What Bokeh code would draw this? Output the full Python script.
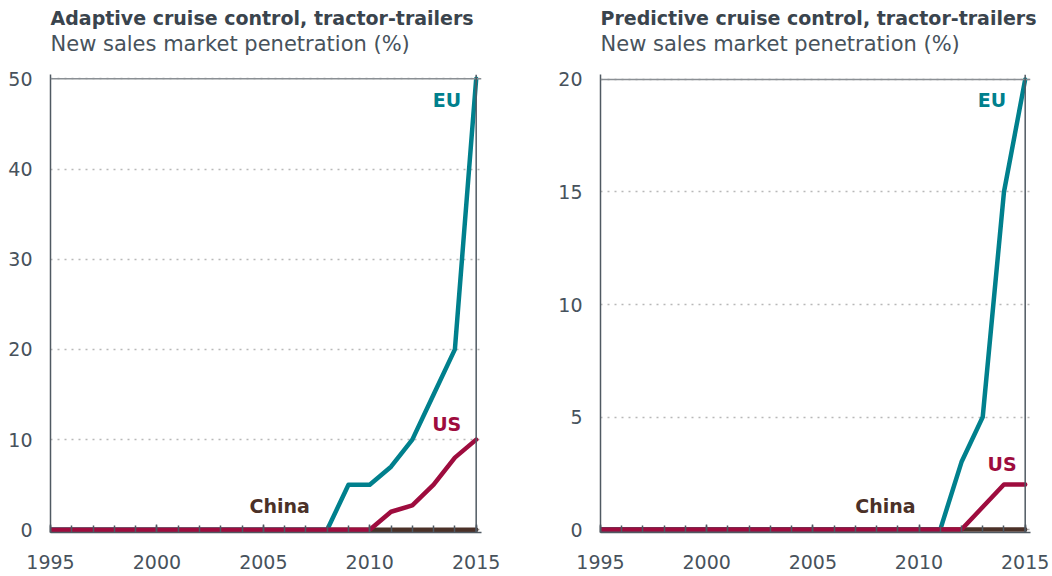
from bokeh.plotting import figure
from bokeh.layouts import row
from bokeh.models import Range1d, FixedTicker, Span, Label, Title
from bokeh.embed import file_html
from bokeh.resources import INLINE

years = list(range(1995, 2016))

# Adaptive cruise control (%)
acc_eu = [0]*14 + [5, 5, 7, 10, 15, 20, 50]
acc_us = [0]*16 + [2, 2.7, 5, 8, 10]
acc_cn = [0]*21

# Predictive cruise control (%)
pcc_eu = [0]*17 + [3, 5, 15, 20]
pcc_us = [0]*18 + [1, 2, 2]
pcc_cn = [0]*21

x_ticks = [1995, 2000, 2005, 2010, 2015]
acc_yticks = [0, 10, 20, 30, 40, 50]
pcc_yticks = [0, 5, 10, 15, 20]

titles = ["Adaptive cruise control, tractor-trailers", "Predictive cruise control, tractor-trailers"]
subtitle = "New sales market penetration (%)"

C_EU = "#00808D"
C_US = "#9E0C3E"
C_CN = "#4B3128"
TXT = "#47525c"
FONT = "DejaVu Sans"


def make(title, eu, us, cn, yticks, ymax, yr, width, bl, br, labels):
    p = figure(width=width, height=574, output_backend="svg", toolbar_location=None,
               x_range=Range1d(1995, 2015.25), y_range=Range1d(*yr),
               frame_height=458, frame_width=width - bl - br,
               min_border_left=bl, min_border_right=br, min_border_top=74, min_border_bottom=42,
               outline_line_color=None, background_fill_color="white", border_fill_color="white")
    p.add_layout(Title(text=subtitle, align="left", text_font=FONT, text_font_size="21px",
                       text_font_style="normal", text_color=TXT, standoff=37), "above")
    p.add_layout(Title(text=title, align="left", text_font=FONT, text_font_size="19px",
                       text_font_style="bold", text_color="#3a444d", standoff=-34), "above")
    # axes
    p.xaxis.ticker = FixedTicker(ticks=x_ticks, minor_ticks=years)
    p.yaxis.ticker = FixedTicker(ticks=yticks)
    for ax in (p.xaxis, p.yaxis):
        ax.axis_line_color = "#4f5962"
        ax.axis_line_width = 1.5
        ax.major_label_text_font = FONT
        ax.major_label_text_font_size = "19px"
        ax.major_label_text_color = TXT
    p.xaxis.major_tick_in = 8
    p.xaxis.major_tick_out = 0
    p.xaxis.minor_tick_in = 7
    p.xaxis.minor_tick_out = 0
    p.xaxis.major_tick_line_color = "#4f5962"
    p.xaxis.minor_tick_line_color = "#4f5962"
    p.xaxis.major_tick_line_width = 1.5
    p.xaxis.minor_tick_line_width = 1.5
    p.xaxis.major_label_standoff = 22
    p.yaxis.major_tick_line_color = None
    p.yaxis.minor_tick_line_color = None
    p.yaxis.major_label_standoff = 12
    p.xgrid.grid_line_color = None
    p.ygrid.grid_line_color = "#b8b8b8"
    p.ygrid.grid_line_dash = "2 5"
    p.ygrid.grid_line_width = 1.5
    p.add_layout(Span(location=ymax, dimension="width", line_color="#8a8f94", line_width=1.5))
    p.add_layout(Span(location=2015, dimension="height", line_color="#4f5962", line_width=1.5))

    p.line(years, cn, line_color=C_CN, line_width=4.5, line_cap="round", line_join="round")
    p.line(years, eu, line_color=C_EU, line_width=4.5, line_cap="round", line_join="round")
    p.line(years, us, line_color=C_US, line_width=4.5, line_cap="round", line_join="round")

    for (txt, x, y, col, align) in labels:
        p.add_layout(Label(x=x, y=y, text=txt, text_color=col, text_font=FONT, text_font_size="19px",
                           text_font_style="bold", text_align=align, text_baseline="middle"))
    return p


p1 = make(titles[0], acc_eu, acc_us, acc_cn, acc_yticks, 50, (-0.3, 50.48), 520, 50, 39,
          [("EU", 2014.3, 47.6, C_EU, "right"), ("US", 2014.3, 11.7, C_US, "right"),
           ("China", 2004.35, 2.6, C_CN, "left")])
p2 = make(titles[1], pcc_eu, pcc_us, pcc_cn, pcc_yticks, 20, (-0.13, 20.22), 532, 80, 22,
          [("EU", 2014.1, 19.1, C_EU, "right"), ("US", 2014.6, 2.9, C_US, "right"),
           ("China", 2007.0, 1.05, C_CN, "left")])

layout = row(p1, p2)
open("out.html", "w").write(file_html(layout, INLINE))
